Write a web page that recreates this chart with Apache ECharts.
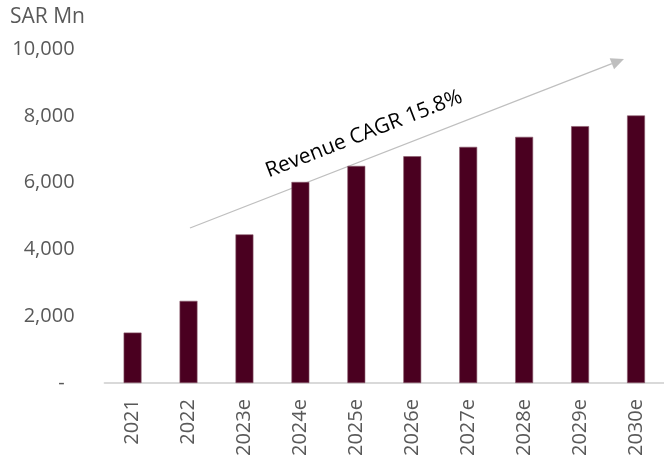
<!DOCTYPE html>
<html>
<head>
<meta charset="utf-8">
<script src="https://cdn.jsdelivr.net/npm/echarts@6/dist/echarts.min.js"></script>
<style>
  html, body { margin: 0; padding: 0; background: #fff; }
  #chart { width: 664px; height: 459px; }
</style>
</head>
<body>
<div id="chart"></div>
<script>
// Revenue outlook, SAR millions
const years = ['2021', '2022', '2023e', '2024e', '2025e', '2026e', '2027e', '2028e', '2029e', '2030e'];
const revenue = [1510, 2460, 4450, 6020, 6500, 6790, 7070, 7370, 7690, 8010];
const yTicks = [0, 2000, 4000, 6000, 8000, 10000];
const unitLabel = 'SAR Mn';
const cagrLabel = 'Revenue CAGR 15.8%';

const FONT = 'Open Sans';
const TEXT_GREY = '#595959';
const BAR = '#4a0020';

const chart = echarts.init(document.getElementById('chart'), null, { renderer: 'canvas' });

// growth arrow geometry (annotation)
const ax0 = 190, ay0 = 228, ax1 = 624, ay1 = 59;
const ang = Math.atan2(ay0 - ay1, ax1 - ax0);
const head = 13, half = 6;
const bx = ax1 - head * Math.cos(ang), by = ay1 + head * Math.sin(ang);
const px = Math.sin(ang) * half, py = Math.cos(ang) * half;

chart.setOption({
  animation: false,
  textStyle: { fontFamily: FONT },
  grid: { left: 104.6, top: 49, width: 568, bottom: 73, containLabel: false },
  xAxis: {
    type: 'category',
    data: years,
    axisLine: { show: true, lineStyle: { color: '#d9d9d9', width: 2 } },
    axisTick: { show: false },
    axisLabel: {
      rotate: 90, color: TEXT_GREY, fontSize: 20, fontFamily: FONT, margin: 16,
      interval: 0
    }
  },
  yAxis: {
    type: 'value',
    min: 0, max: 10000, interval: 2000,
    splitLine: { show: false },
    axisLine: { show: false },
    axisTick: { show: false },
    axisLabel: {
      color: TEXT_GREY, fontSize: 20, fontFamily: FONT, margin: 30,
      formatter: v => yTicks.includes(v) ? (v === 0 ? '{d|-}' : v.toLocaleString('en-US')) : '',
      rich: { d: { color: TEXT_GREY, fontSize: 20, fontFamily: FONT, padding: [0, 10, 0, 0] } }
    }
  },
  series: [{
    type: 'bar',
    data: revenue,
    barWidth: '32%',
    itemStyle: { color: BAR, borderColor: '#8a5a6c', borderWidth: 0.6 }
  }],
  graphic: [
    { type: 'text', left: 10, top: 7,
      style: { text: unitLabel, fill: TEXT_GREY, font: '21px "' + FONT + '"' } },
    { type: 'line', shape: { x1: ax0, y1: ay0, x2: bx, y2: by },
      style: { stroke: '#bfbfbf', lineWidth: 1.3 } },
    { type: 'polygon',
      shape: { points: [[ax1, ay1], [bx + px, by + py], [bx - px, by - py]] },
      style: { fill: '#bfbfbf' } },
    { type: 'text', x: 364, y: 134, rotation: ang,
      style: { text: cagrLabel, fill: '#000', font: '21px "' + FONT + '"',
               align: 'center', verticalAlign: 'middle' } }
  ]
});
</script>
</body>
</html>
